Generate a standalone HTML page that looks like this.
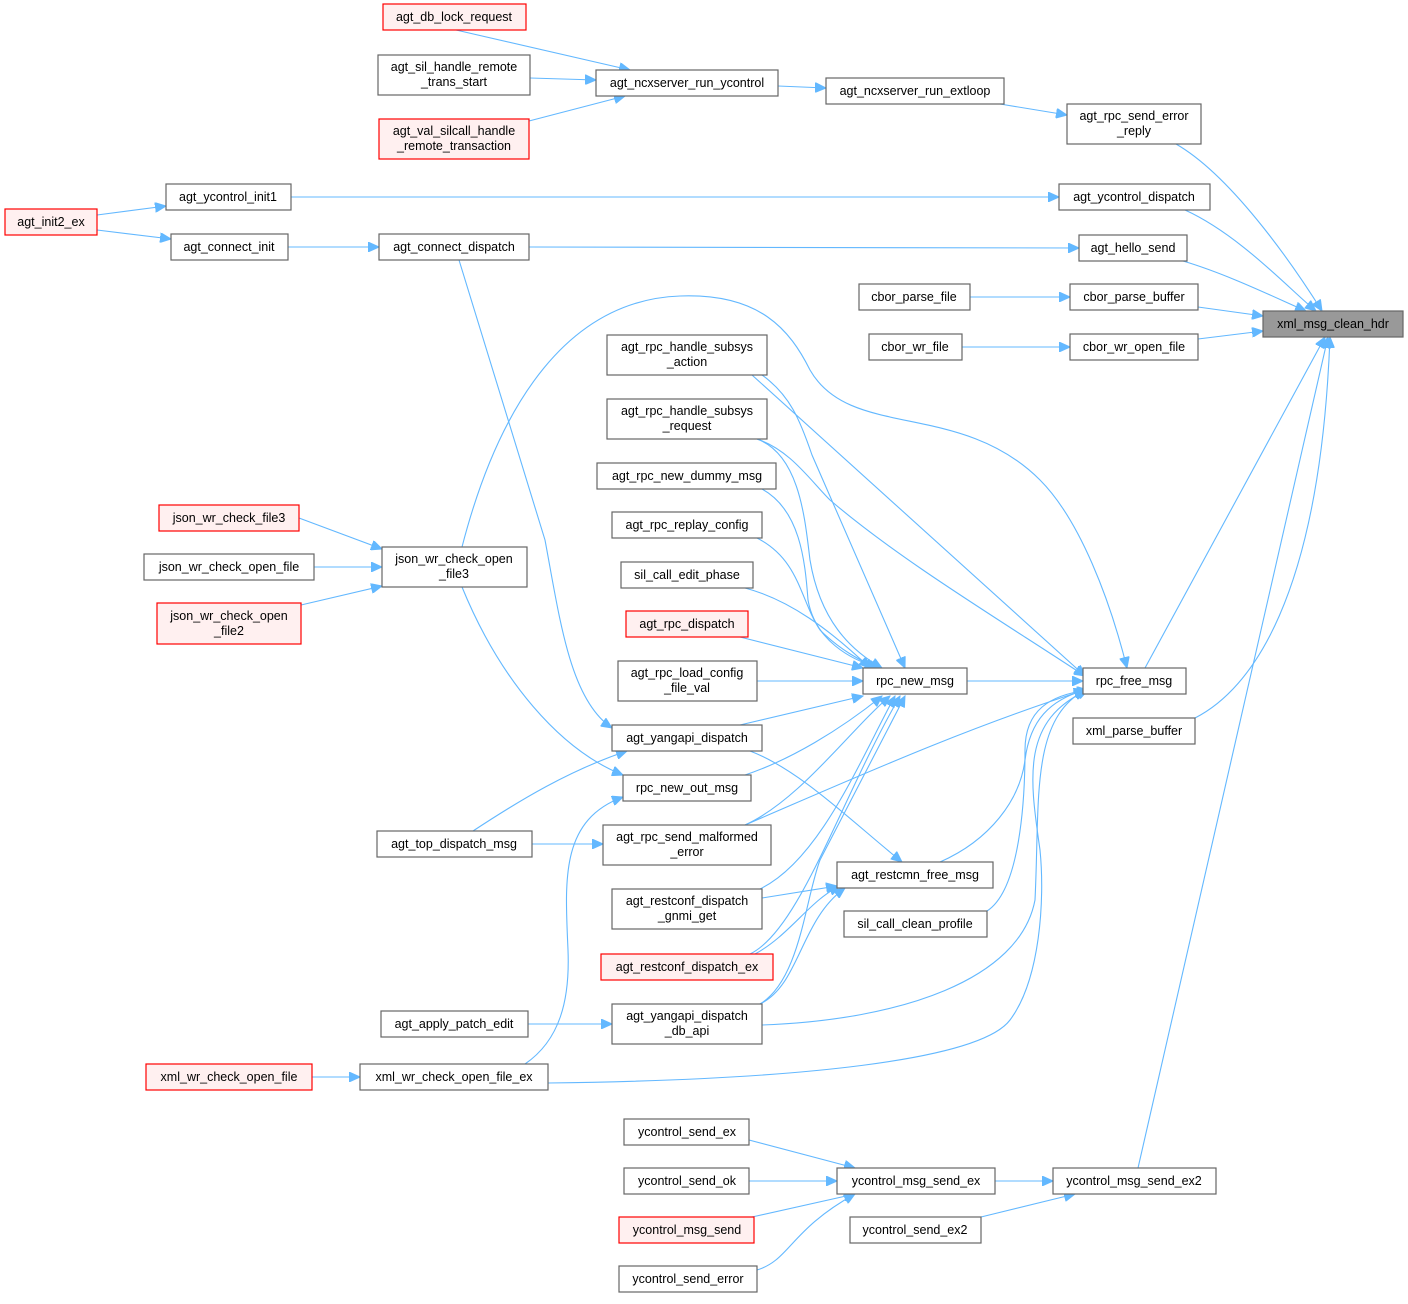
<!DOCTYPE html>
<html><head><meta charset="utf-8"><style>
html,body{margin:0;padding:0;background:#fff;}
svg text{font-family:"Liberation Sans",Arial,sans-serif;font-size:12.5px;fill:#000;text-anchor:middle;}
.n{fill:#fff;stroke:#666;stroke-width:1.2}
.r{fill:#fff0f0;stroke:#ff0000;stroke-width:1.2}
.g{fill:#999;stroke:#666;stroke-width:1.2}
.e{fill:none;stroke:#63b8ff;stroke-width:1.1}
</style></head><body>
<svg width="1408" height="1299" viewBox="0 0 1408 1299" xmlns="http://www.w3.org/2000/svg">
<defs><marker id="a" markerUnits="userSpaceOnUse" markerWidth="12" markerHeight="10" refX="11" refY="5" orient="auto"><path d="M0,0 L11,5 L0,10 z" fill="#63b8ff" stroke="#63b8ff"/></marker></defs>
<g marker-end="url(#a)">
<path class="e" d="M456,30 L630,70"/>
<path class="e" d="M530,78 L596,80"/>
<path class="e" d="M529,121 L625,96"/>
<path class="e" d="M778,86 L826,88"/>
<path class="e" d="M1000,104 L1067,115"/>
<path class="e" d="M1176,144 C1230,175 1290,260 1322,311"/>
<path class="e" d="M291,197 L1059,197"/>
<path class="e" d="M97,215 L166,206"/>
<path class="e" d="M97,230 L171,239"/>
<path class="e" d="M288,247 L379,247"/>
<path class="e" d="M529,247 L1079,248"/>
<path class="e" d="M1185,210 C1240,235 1290,290 1316,311"/>
<path class="e" d="M1183,261 C1230,275 1280,300 1306,311"/>
<path class="e" d="M970,297 L1070,297"/>
<path class="e" d="M1198,307 L1263,316"/>
<path class="e" d="M962,347 L1070,347"/>
<path class="e" d="M1198,339 L1263,331"/>
<path class="e" d="M1145,668 L1325,337"/>
<path class="e" d="M1195,718 C1250,690 1320,600 1330,337"/>
<path class="e" d="M1138,1168 L1328,337"/>
<path class="e" d="M967,681 L1083,681"/>
<path class="e" d="M459,260 L545,540 C560,620 570,700 612,728"/>
<path class="e" d="M462,547 C500,400 570,300 680,296 C760,293 790,330 810,370 C850,440 960,400 1040,480 C1080,520 1110,600 1127,668"/>
<path class="e" d="M462,587 C500,680 560,750 623,775"/>
<path class="e" d="M299,518 L382,549"/>
<path class="e" d="M314,567 L382,567"/>
<path class="e" d="M301,605 L382,586"/>
<path class="e" d="M752,375 L1085,676"/>
<path class="e" d="M762,375 C790,395 800,420 812,455 L905,668"/>
<path class="e" d="M757,439 C800,455 805,520 810,560 C820,620 850,650 882,668"/>
<path class="e" d="M757,439 C790,450 810,480 830,500 C900,560 1000,620 1085,676"/>
<path class="e" d="M762,489 C800,510 805,560 808,600 C815,640 850,660 880,668"/>
<path class="e" d="M757,538 C800,560 800,600 820,630 C840,650 860,660 876,668"/>
<path class="e" d="M745,588 C790,600 830,630 870,668"/>
<path class="e" d="M740,637 L863,668"/>
<path class="e" d="M757,681 L863,681"/>
<path class="e" d="M740,725 L863,696"/>
<path class="e" d="M745,775 C790,760 840,730 882,696"/>
<path class="e" d="M745,825 C800,800 850,730 890,696"/>
<path class="e" d="M745,825 C850,780 960,730 1085,690"/>
<path class="e" d="M760,889 C820,860 860,760 895,696"/>
<path class="e" d="M762,898 L837,886"/>
<path class="e" d="M750,954 C800,930 840,800 900,696"/>
<path class="e" d="M755,954 C790,935 810,900 840,886"/>
<path class="e" d="M760,1004 C800,980 805,900 820,860 L905,696"/>
<path class="e" d="M760,1004 C800,985 800,920 845,888"/>
<path class="e" d="M762,1025 C900,1020 1020,980 1035,900 C1040,800 1030,720 1085,690"/>
<path class="e" d="M750,751 C800,770 850,820 902,862"/>
<path class="e" d="M940,862 C990,840 1020,800 1025,760 C1030,720 1050,700 1085,690"/>
<path class="e" d="M987,911 C1020,890 1025,800 1025,750 C1025,710 1050,695 1088,690"/>
<path class="e" d="M548,1083 C800,1080 980,1060 1010,1020 C1040,980 1045,900 1040,850 C1030,780 1020,720 1088,690"/>
<path class="e" d="M473,831 C520,800 570,770 627,751"/>
<path class="e" d="M532,844 L603,844"/>
<path class="e" d="M528,1024 L612,1024"/>
<path class="e" d="M312,1077 L360,1077"/>
<path class="e" d="M525,1064 C560,1040 570,1000 568,950 C565,880 560,820 623,797"/>
<path class="e" d="M749,1140 L855,1168"/>
<path class="e" d="M749,1181 L837,1181"/>
<path class="e" d="M752,1217 L855,1194"/>
<path class="e" d="M757,1270 C790,1260 790,1230 855,1194"/>
<path class="e" d="M995,1181 L1053,1181"/>
<path class="e" d="M981,1217 L1075,1194"/>
</g>
<g>
<rect class="r" x="383" y="4" width="143" height="26"/><text x="454" y="21">agt_db_lock_request</text>
<rect class="n" x="378" y="55" width="152" height="40"/><text x="454" y="71">agt_sil_handle_remote</text><text x="454" y="86">_trans_start</text>
<rect class="r" x="379" y="119" width="150" height="40"/><text x="454" y="135">agt_val_silcall_handle</text><text x="454" y="150">_remote_transaction</text>
<rect class="n" x="596" y="70" width="182" height="26"/><text x="687" y="87">agt_ncxserver_run_ycontrol</text>
<rect class="n" x="826" y="78" width="178" height="26"/><text x="915" y="95">agt_ncxserver_run_extloop</text>
<rect class="n" x="1067" y="104" width="134" height="40"/><text x="1134" y="120">agt_rpc_send_error</text><text x="1134" y="135">_reply</text>
<rect class="n" x="166" y="184" width="125" height="26"/><text x="228" y="201">agt_ycontrol_init1</text>
<rect class="r" x="5" y="209" width="92" height="26"/><text x="51" y="226">agt_init2_ex</text>
<rect class="n" x="171" y="234" width="117" height="26"/><text x="229" y="251">agt_connect_init</text>
<rect class="n" x="379" y="234" width="150" height="26"/><text x="454" y="251">agt_connect_dispatch</text>
<rect class="n" x="1059" y="184" width="151" height="26"/><text x="1134" y="201">agt_ycontrol_dispatch</text>
<rect class="n" x="1079" y="235" width="108" height="26"/><text x="1133" y="252">agt_hello_send</text>
<rect class="n" x="859" y="284" width="111" height="26"/><text x="914" y="301">cbor_parse_file</text>
<rect class="n" x="1070" y="284" width="128" height="26"/><text x="1134" y="301">cbor_parse_buffer</text>
<rect class="g" x="1263" y="311" width="140" height="26"/><text x="1333" y="328">xml_msg_clean_hdr</text>
<rect class="n" x="869" y="334" width="93" height="26"/><text x="915" y="351">cbor_wr_file</text>
<rect class="n" x="1070" y="334" width="128" height="26"/><text x="1134" y="351">cbor_wr_open_file</text>
<rect class="n" x="607" y="335" width="160" height="40"/><text x="687" y="351">agt_rpc_handle_subsys</text><text x="687" y="366">_action</text>
<rect class="n" x="607" y="399" width="160" height="40"/><text x="687" y="415">agt_rpc_handle_subsys</text><text x="687" y="430">_request</text>
<rect class="n" x="597" y="463" width="179" height="26"/><text x="687" y="480">agt_rpc_new_dummy_msg</text>
<rect class="n" x="612" y="512" width="150" height="26"/><text x="687" y="529">agt_rpc_replay_config</text>
<rect class="n" x="621" y="562" width="132" height="26"/><text x="687" y="579">sil_call_edit_phase</text>
<rect class="r" x="626" y="611" width="122" height="26"/><text x="687" y="628">agt_rpc_dispatch</text>
<rect class="n" x="618" y="661" width="139" height="40"/><text x="687" y="677">agt_rpc_load_config</text><text x="687" y="692">_file_val</text>
<rect class="n" x="863" y="668" width="104" height="26"/><text x="915" y="685">rpc_new_msg</text>
<rect class="n" x="1083" y="668" width="103" height="26"/><text x="1134" y="685">rpc_free_msg</text>
<rect class="n" x="1073" y="718" width="122" height="26"/><text x="1134" y="735">xml_parse_buffer</text>
<rect class="n" x="612" y="725" width="150" height="26"/><text x="687" y="742">agt_yangapi_dispatch</text>
<rect class="n" x="623" y="775" width="128" height="26"/><text x="687" y="792">rpc_new_out_msg</text>
<rect class="n" x="603" y="825" width="168" height="40"/><text x="687" y="841">agt_rpc_send_malformed</text><text x="687" y="856">_error</text>
<rect class="n" x="377" y="831" width="155" height="26"/><text x="454" y="848">agt_top_dispatch_msg</text>
<rect class="n" x="837" y="862" width="156" height="26"/><text x="915" y="879">agt_restcmn_free_msg</text>
<rect class="n" x="844" y="911" width="143" height="26"/><text x="915" y="928">sil_call_clean_profile</text>
<rect class="n" x="612" y="889" width="150" height="40"/><text x="687" y="905">agt_restconf_dispatch</text><text x="687" y="920">_gnmi_get</text>
<rect class="r" x="601" y="954" width="172" height="26"/><text x="687" y="971">agt_restconf_dispatch_ex</text>
<rect class="n" x="612" y="1004" width="150" height="40"/><text x="687" y="1020">agt_yangapi_dispatch</text><text x="687" y="1035">_db_api</text>
<rect class="n" x="381" y="1011" width="147" height="26"/><text x="454" y="1028">agt_apply_patch_edit</text>
<rect class="r" x="146" y="1064" width="166" height="26"/><text x="229" y="1081">xml_wr_check_open_file</text>
<rect class="n" x="360" y="1064" width="188" height="26"/><text x="454" y="1081">xml_wr_check_open_file_ex</text>
<rect class="r" x="159" y="505" width="140" height="26"/><text x="229" y="522">json_wr_check_file3</text>
<rect class="n" x="144" y="554" width="170" height="26"/><text x="229" y="571">json_wr_check_open_file</text>
<rect class="r" x="157" y="603" width="144" height="41"/><text x="229" y="620">json_wr_check_open</text><text x="229" y="635">_file2</text>
<rect class="n" x="382" y="547" width="145" height="40"/><text x="454" y="563">json_wr_check_open</text><text x="454" y="578">_file3</text>
<rect class="n" x="624" y="1119" width="125" height="26"/><text x="687" y="1136">ycontrol_send_ex</text>
<rect class="n" x="624" y="1168" width="125" height="26"/><text x="687" y="1185">ycontrol_send_ok</text>
<rect class="r" x="619" y="1217" width="135" height="26"/><text x="687" y="1234">ycontrol_msg_send</text>
<rect class="n" x="619" y="1266" width="138" height="26"/><text x="688" y="1283">ycontrol_send_error</text>
<rect class="n" x="837" y="1168" width="158" height="26"/><text x="916" y="1185">ycontrol_msg_send_ex</text>
<rect class="n" x="1053" y="1168" width="163" height="26"/><text x="1134" y="1185">ycontrol_msg_send_ex2</text>
<rect class="n" x="850" y="1217" width="131" height="26"/><text x="915" y="1234">ycontrol_send_ex2</text>
</g>
</svg>
</body></html>
